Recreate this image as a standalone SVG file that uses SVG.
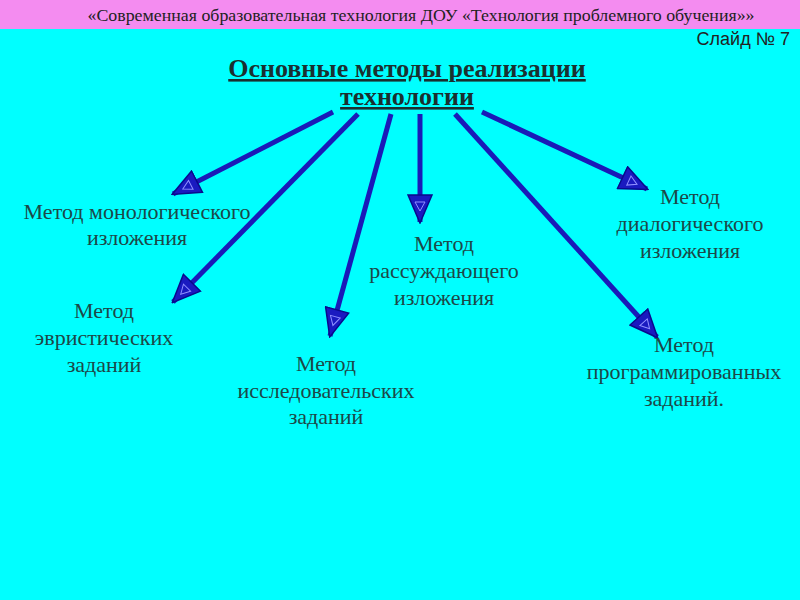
<svg xmlns="http://www.w3.org/2000/svg" width="800" height="600" viewBox="0 0 800 600">
<style>
.lbl{font-family:"Liberation Serif","Times New Roman",serif;font-size:22px;fill:#1d4848;text-anchor:middle}
.ttl{font-family:"Liberation Serif","Times New Roman",serif;font-size:26px;font-weight:bold;fill:#1a3030;text-anchor:middle;text-decoration:underline}
.arr{stroke:#1a1ab8;stroke-width:5;fill:none;marker-end:url(#ah)}
</style>
<defs>
<marker id="ah" viewBox="0 0 30 26" refX="28" refY="13" markerWidth="30" markerHeight="26" markerUnits="userSpaceOnUse" orient="auto">
<polygon points="1,1 29,13 1,25" fill="#1a1ac0" stroke="#0a0a8c" stroke-width="1.5"/>
<polygon points="8,8 17,13 8,18" fill="none" stroke="#9090ff" stroke-width="1"/>
</marker>
</defs>
<rect x="0" y="0" width="800" height="600" fill="#00ffff"/>
<rect x="0" y="0" width="800" height="29" fill="#f48cf0"/>
<text x="421" y="21" font-family="Liberation Serif, Times New Roman, serif" font-size="17" fill="#222" text-anchor="middle" textLength="667" lengthAdjust="spacingAndGlyphs">«Современная образовательная технология ДОУ «Технология проблемного обучения»»</text>
<text x="790" y="45" font-family="Liberation Sans, Arial, sans-serif" font-size="18" fill="#222" text-anchor="end">Слайд № 7</text>
<g id="title">
<text class="ttl" x="407" y="77">Основные методы реализации</text>
<text class="ttl" x="407" y="105">технологии</text>
</g>
<g id="connectors">
<line class="arr" x1="333" y1="112" x2="173" y2="194"/>
<line class="arr" x1="358" y1="114" x2="173" y2="302"/>
<line class="arr" x1="391" y1="114" x2="330" y2="336"/>
<line class="arr" x1="420" y1="114" x2="420" y2="222"/>
<line class="arr" x1="455" y1="114" x2="657" y2="337"/>
<line class="arr" x1="482" y1="112" x2="647" y2="189"/>
</g>
<g id="n1"><text class="lbl" x="137" y="219">Метод монологического</text><text class="lbl" x="137" y="245">изложения</text></g>
<g id="n2"><text class="lbl" x="104" y="318">Метод</text><text class="lbl" x="104" y="345">эвристических</text><text class="lbl" x="104" y="372">заданий</text></g>
<g id="n3"><text class="lbl" x="326" y="371">Метод</text><text class="lbl" x="326" y="398">исследовательских</text><text class="lbl" x="326" y="424">заданий</text></g>
<g id="n4"><text class="lbl" x="444" y="251">Метод</text><text class="lbl" x="444" y="278">рассуждающего</text><text class="lbl" x="444" y="305">изложения</text></g>
<g id="n5"><text class="lbl" x="690" y="204">Метод</text><text class="lbl" x="690" y="231">диалогического</text><text class="lbl" x="690" y="258">изложения</text></g>
<g id="n6"><text class="lbl" x="684" y="352">Метод</text><text class="lbl" x="684" y="379">программированных</text><text class="lbl" x="684" y="406">заданий.</text></g>
</svg>
